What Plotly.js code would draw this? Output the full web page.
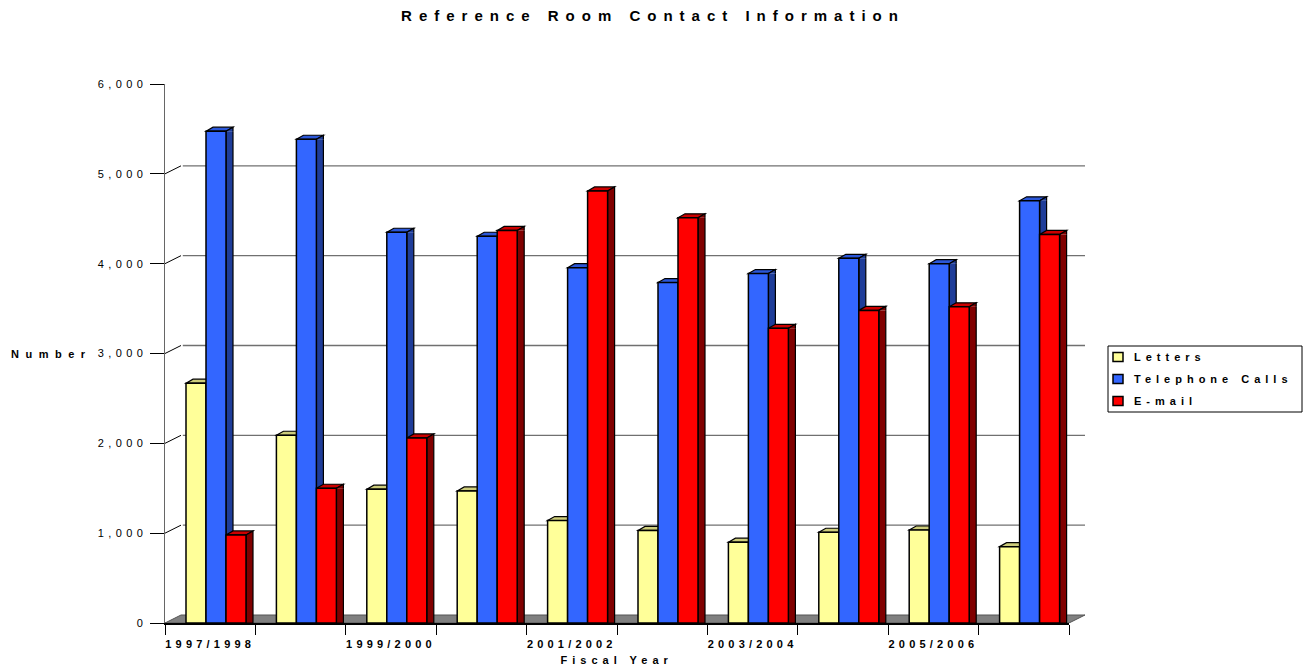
<!DOCTYPE html>
<html>
<head>
<meta charset="utf-8">
<script src="https://cdn.plot.ly/plotly-3.0.1.min.js"></script>
<style>
html, body { margin: 0; padding: 0; background: #ffffff; }
#chart { width: 1306px; height: 670px; }
.gtitle { letter-spacing: 7px; }
.xtick text { letter-spacing: 4.2px; }
.ytick text { letter-spacing: 4.4px; }
.annotation[data-index="0"] text { letter-spacing: 6.5px; }
.annotation[data-index="1"] text { letter-spacing: 5px; }
.annotation[data-index="2"] text,
.annotation[data-index="3"] text,
.annotation[data-index="4"] text { letter-spacing: 5px; }
</style>
</head>
<body>
<div id="chart"></div>
<script>
// ---------------- data ----------------
const fiscalYears = ['1997/1998', '1998/1999', '1999/2000', '2000/2001', '2001/2002',
                     '2002/2003', '2003/2004', '2004/2005', '2005/2006', '2006/2007'];
const letters        = [2670, 2090, 1490, 1470, 1140, 1030,  900, 1010, 1035,  850];
const telephoneCalls = [5475, 5385, 4350, 4305, 3955, 3790, 3890, 4060, 4000, 4700];
const email          = [ 980, 1500, 2060, 4370, 4810, 4510, 3280, 3480, 3520, 4325];
const seriesNames    = ['Letters', 'Telephone Calls', 'E-mail'];
const yTickValues    = [0, 1000, 2000, 3000, 4000, 5000, 6000];

// ---------------- geometry / style ----------------
const W = 1306, H = 670;
const M = { l: 165, r: 237, t: 84, b: 47, autoexpand: false };
const plotW = W - M.l - M.r;
const plotH = H - M.t - M.b;
const n = fiscalYears.length;
const catPx = plotW / n;
const barW = 20 / catPx;
const barOffsets = [-24.2 / catPx, -4.2 / catPx, 15.8 / catPx];
const barDX = 7 / catPx;   // bar depth (data units along x)
const barDY = 4;           // bar depth (pixels up)
const wallDX = 16 / plotW; // back wall shift (paper units)
const wallDY = 8;          // back wall shift (pixels up)
const FONT = 'Liberation Sans, Arial, sans-serif';
const px2paperX = px => (px - M.l) / plotW;
const px2paperY = py => (H - M.b - py) / plotH;

const styles = [
  { front: '#FFFF99', top: '#CCCC7A', side: '#99995C' },
  { front: '#3366FF', top: '#2B57D9', side: '#1F3D99' },
  { front: '#FF0000', top: '#CC0000', side: '#800000' }
];
const seriesValues = [letters, telephoneCalls, email];
const xIdx = fiscalYears.map((_, i) => i);

// ---------------- traces (front faces) ----------------
const traces = seriesValues.map((vals, s) => ({
  type: 'bar',
  name: seriesNames[s],
  x: xIdx,
  y: vals,
  width: barW,
  offset: barOffsets[s],
  marker: { color: styles[s].front, line: { color: '#000000', width: 1.5 } },
  hoverinfo: 'skip',
  showlegend: false
}));

// ---------------- shapes ----------------
const shapes = [];
// floor
shapes.push({
  type: 'path', xref: 'paper', yref: 'y', ysizemode: 'pixel', yanchor: 0,
  path: `M0,0 L1,0 L${1 + wallDX},${wallDY} L${wallDX},${wallDY} Z`,
  fillcolor: '#808080', line: { color: '#555555', width: 1 }, layer: 'below'
});
// gridlines on the back wall + connectors from the axis
yTickValues.forEach(v => {
  if (v === 0) return;
  const top = v === yTickValues[yTickValues.length - 1];
  shapes.push({
    type: 'line', xref: 'paper', yref: 'y', ysizemode: 'pixel', yanchor: v,
    x0: wallDX + 0.002, x1: 1 + wallDX, y0: wallDY, y1: wallDY,
    line: { color: top ? '#D9D9D9' : '#707070', width: 1.3 }, layer: 'below'
  });
  shapes.push({
    type: 'line', xref: 'paper', yref: 'y', ysizemode: 'pixel', yanchor: v,
    x0: 0, x1: wallDX, y0: 0, y1: wallDY,
    line: { color: top ? '#D9D9D9' : '#000000', width: 1, dash: top ? 'dot' : 'solid' }, layer: 'below'
  });
});
// 3D faces of bars (drawn below the front faces)
xIdx.forEach(i => {
  seriesValues.forEach((vals, s) => {
    const v = vals[i];
    const xl = i + barOffsets[s];
    const xr = xl + barW;
    shapes.push({
      type: 'path', xref: 'x', yref: 'y', ysizemode: 'pixel', yanchor: v,
      path: `M${xl},0 L${xl + barDX},${barDY} L${xr + barDX},${barDY} L${xr},0 Z`,
      fillcolor: styles[s].top, line: { color: '#000000', width: 1.2 }, layer: 'below'
    });
    shapes.push({
      type: 'path', xref: 'x', yref: 'y',
      path: `M${xr},${v} L${xr},0 L${xr + barDX},0 L${xr + barDX},${v}`,
      fillcolor: styles[s].side, line: { color: '#000000', width: 1.2 }, layer: 'below'
    });
    shapes.push({
      type: 'path', xref: 'x', yref: 'y', ysizemode: 'pixel', yanchor: v,
      path: `M${xr},0 L${xr + barDX},${barDY} L${xr + barDX},0`,
      fillcolor: styles[s].side, line: { color: '#000000', width: 1.2 }, layer: 'below'
    });
  });
});

// legend (box, swatches, labels)
const legendBox = { x0: 1108, x1: 1302, y0: 346, y1: 412 };
const legendRowY = [357, 379, 401];
shapes.push({
  type: 'rect', xref: 'paper', yref: 'paper',
  x0: px2paperX(legendBox.x0), x1: px2paperX(legendBox.x1),
  y0: px2paperY(legendBox.y1), y1: px2paperY(legendBox.y0),
  fillcolor: '#ffffff', line: { color: '#000000', width: 1 }, layer: 'above'
});
const legendAnnotations = [];
seriesNames.forEach((name, s) => {
  const cy = legendRowY[s];
  shapes.push({
    type: 'rect', xref: 'paper', yref: 'paper',
    x0: px2paperX(1113), x1: px2paperX(1123),
    y0: px2paperY(cy + 4.5), y1: px2paperY(cy - 4.5),
    fillcolor: styles[s].front, line: { color: '#000000', width: 1.5 }, layer: 'above'
  });
  legendAnnotations.push({
    text: name, xref: 'paper', yref: 'paper',
    x: px2paperX(1132), xanchor: 'left', align: 'left',
    y: px2paperY(cy), yanchor: 'middle',
    showarrow: false, font: { family: FONT, size: 11, weight: 'bold', color: '#000000' }
  });
});

// ---------------- layout ----------------
const labelIdx = xIdx.filter(i => i % 2 === 0);
const layout = {
  width: W, height: H,
  margin: M,
  paper_bgcolor: '#ffffff',
  plot_bgcolor: 'rgba(0,0,0,0)',
  barmode: 'overlay',
  showlegend: false,
  font: { family: FONT, color: '#000000' },
  title: {
    text: 'Reference Room Contact Information',
    x: 0.5, xref: 'container', xanchor: 'center',
    y: 1 - 16 / H, yref: 'container', yanchor: 'middle',
    font: { family: FONT, size: 15, weight: 'bold', color: '#000000' }
  },
  xaxis: {
    range: [-0.5, n - 0.5],
    tickmode: 'array',
    tickvals: labelIdx,
    ticktext: labelIdx.map(i => fiscalYears[i]),
    ticks: '',
    ticklabelstandoff: 10,
    tickfont: { family: FONT, size: 11, weight: 'bold', color: '#000000' },
    minor: {
      tickmode: 'array',
      tickvals: xIdx.map(i => i - 0.5).concat([n - 0.5]),
      ticks: 'outside', ticklen: 10, tickwidth: 1, tickcolor: '#000000', showgrid: false
    },
    showgrid: false, zeroline: false,
    showline: true, linecolor: '#000000', linewidth: 2,
    fixedrange: true
  },
  yaxis: {
    range: [0, 6000],
    tickmode: 'array',
    tickvals: yTickValues,
    tickformat: ',d',
    ticks: 'outside', ticklen: 14, tickwidth: 1, tickcolor: '#000000',
    tickfont: { family: FONT, size: 11, color: '#000000' },
    showgrid: false, zeroline: false,
    showline: true, linecolor: '#666666', linewidth: 1.5,
    fixedrange: true
  },
  annotations: [
    {
      text: 'Number', xref: 'paper', yref: 'y',
      x: px2paperX(9), xanchor: 'left', align: 'left', y: 3000, yanchor: 'middle',
      showarrow: false, font: { family: FONT, size: 11, weight: 'bold', color: '#000000' }
    },
    {
      text: 'Fiscal Year', xref: 'paper', yref: 'paper',
      x: 0.5, xanchor: 'center', y: px2paperY(660), yanchor: 'middle',
      showarrow: false, font: { family: FONT, size: 11, weight: 'bold', color: '#000000' }
    }
  ].concat(legendAnnotations),
  shapes: shapes
};

Plotly.newPlot('chart', traces, layout, { displayModeBar: false, staticPlot: true });
</script>
</body>
</html>
